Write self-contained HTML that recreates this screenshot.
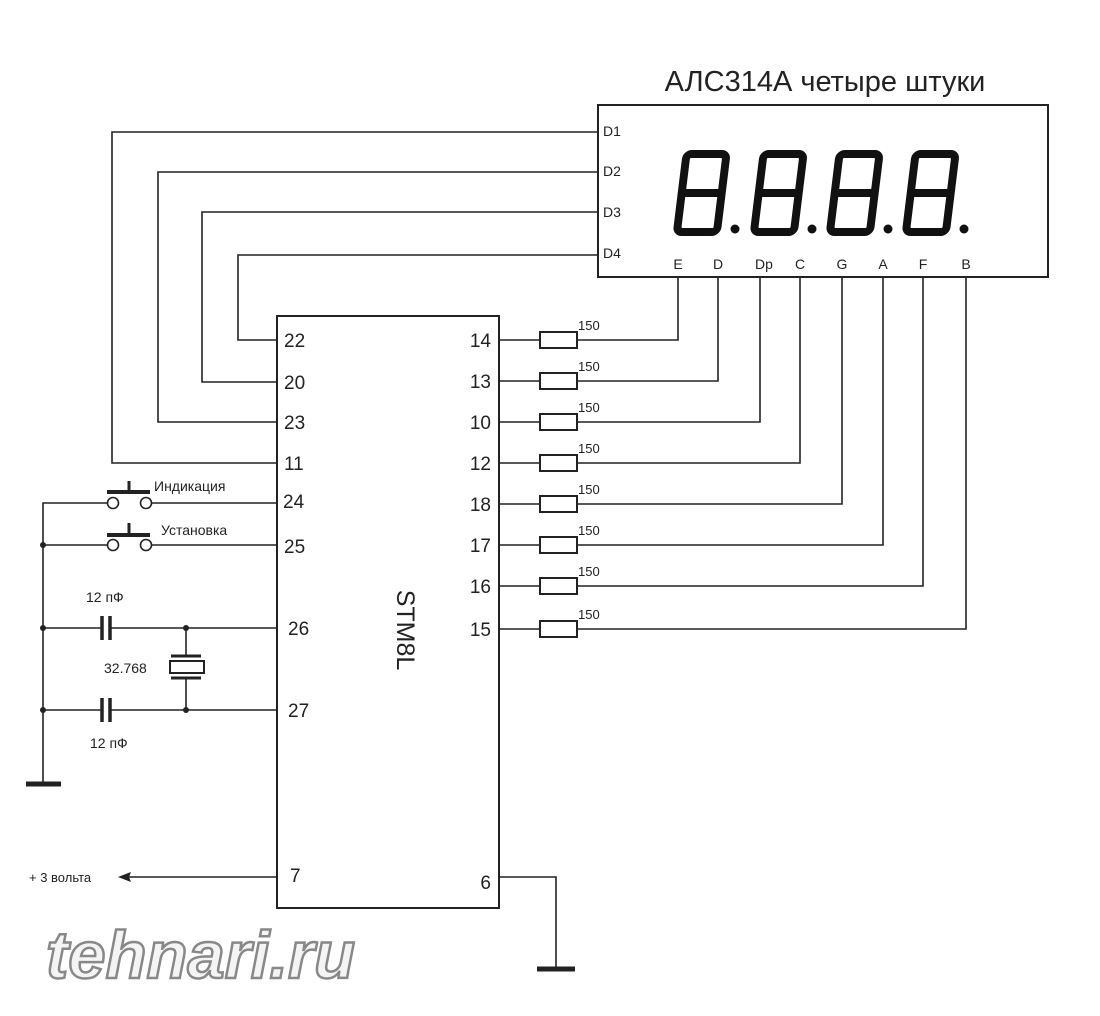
<!DOCTYPE html>
<html><head><meta charset="utf-8"><style>
html,body{margin:0;padding:0;background:#fff;}
svg{display:block;}
text{font-family:"Liberation Sans","DejaVu Sans",sans-serif;fill:#222;}
</style></head><body>
<svg width="1100" height="1016" viewBox="0 0 1100 1016" xmlns="http://www.w3.org/2000/svg">
<g fill="none" stroke="#222" stroke-width="1.6">
<rect x="598" y="105" width="450" height="172" stroke-width="2"/>
<rect x="277" y="316" width="222" height="592" stroke-width="2"/>
<polyline points="598,132 112,132 112,463 277,463"/>
<polyline points="598,172 158,172 158,422 277,422"/>
<polyline points="598,212 202,212 202,382 277,382"/>
<polyline points="598,255 238,255 238,340 277,340"/>
<polyline points="499,340 540,340"/><polyline points="577,340 678,340 678,277"/>
<polyline points="499,381 540,381"/><polyline points="577,381 718,381 718,277"/>
<polyline points="499,422 540,422"/><polyline points="577,422 760,422 760,277"/>
<polyline points="499,463 540,463"/><polyline points="577,463 800,463 800,277"/>
<polyline points="499,504 540,504"/><polyline points="577,504 842,504 842,277"/>
<polyline points="499,545 540,545"/><polyline points="577,545 883,545 883,277"/>
<polyline points="499,586 540,586"/><polyline points="577,586 923,586 923,277"/>
<polyline points="499,629 540,629"/><polyline points="577,629 966,629 966,277"/>
<g stroke-width="2">
<rect x="540" y="332" width="37" height="16"/><rect x="540" y="373" width="37" height="16"/>
<rect x="540" y="414" width="37" height="16"/><rect x="540" y="455" width="37" height="16"/>
<rect x="540" y="496" width="37" height="16"/><rect x="540" y="537" width="37" height="16"/>
<rect x="540" y="578" width="37" height="16"/><rect x="540" y="621" width="37" height="16"/>
</g>
<polyline points="108,503 43,503 43,783"/>
<line x1="151" y1="503" x2="277" y2="503"/>
<line x1="43" y1="545" x2="108" y2="545"/><line x1="151" y1="545" x2="277" y2="545"/>
<circle cx="113" cy="503" r="5.5" fill="#fff"/><circle cx="146" cy="503" r="5.5" fill="#fff"/>
<circle cx="113" cy="545" r="5.5" fill="#fff"/><circle cx="146" cy="545" r="5.5" fill="#fff"/>
<line x1="107" y1="492" x2="150" y2="492" stroke-width="4"/><line x1="129" y1="481" x2="129" y2="492" stroke-width="3"/>
<line x1="107" y1="535" x2="150" y2="535" stroke-width="4"/><line x1="129" y1="523" x2="129" y2="535" stroke-width="3"/>
<line x1="43" y1="628" x2="102" y2="628"/><line x1="110" y1="628" x2="277" y2="628"/>
<line x1="43" y1="710" x2="102" y2="710"/><line x1="110" y1="710" x2="277" y2="710"/>
<line x1="102" y1="616" x2="102" y2="640" stroke-width="3.5"/><line x1="110" y1="616" x2="110" y2="640" stroke-width="3.5"/>
<line x1="102" y1="698" x2="102" y2="722" stroke-width="3.5"/><line x1="110" y1="698" x2="110" y2="722" stroke-width="3.5"/>
<line x1="186" y1="628" x2="186" y2="656"/><line x1="186" y1="678" x2="186" y2="710"/>
<rect x="170" y="661" width="34" height="12" stroke-width="2"/>
<line x1="171" y1="656" x2="201" y2="656" stroke-width="3"/><line x1="171" y1="678" x2="201" y2="678" stroke-width="3"/>
<line x1="26" y1="784" x2="61" y2="784" stroke-width="5"/>
<line x1="128" y1="877" x2="277" y2="877"/>
<polyline points="499,877 556,877 556,968"/>
<line x1="537" y1="969" x2="575" y2="969" stroke-width="5"/>
</g>
<polygon points="118,877 131,872 129,877 131,882" fill="#222"/>
<g fill="#222">
<circle cx="43" cy="545" r="3"/><circle cx="43" cy="628" r="3"/><circle cx="43" cy="710" r="3"/>
<circle cx="186" cy="628" r="3"/><circle cx="186" cy="710" r="3"/>
</g>
<g fill="none" stroke="#111" stroke-width="8" stroke-linejoin="round">
<g transform="translate(683,150) skewX(-7)"><rect x="4" y="4" width="40" height="78" rx="5"/><line x1="4" y1="43" x2="44" y2="43"/></g>
<g transform="translate(760,150) skewX(-7)"><rect x="4" y="4" width="40" height="78" rx="5"/><line x1="4" y1="43" x2="44" y2="43"/></g>
<g transform="translate(836,150) skewX(-7)"><rect x="4" y="4" width="40" height="78" rx="5"/><line x1="4" y1="43" x2="44" y2="43"/></g>
<g transform="translate(912,150) skewX(-7)"><rect x="4" y="4" width="40" height="78" rx="5"/><line x1="4" y1="43" x2="44" y2="43"/></g>
</g>
<g fill="#111"><circle cx="735" cy="229" r="4.5"/><circle cx="812" cy="229" r="4.5"/><circle cx="888" cy="229" r="4.5"/><circle cx="964" cy="229" r="4.5"/></g>
<text x="825" y="91" font-size="29" text-anchor="middle">АЛС314А четыре штуки</text>
<g font-size="14">
<text x="603" y="136">D1</text><text x="603" y="176">D2</text><text x="603" y="217">D3</text><text x="603" y="258">D4</text>
<g text-anchor="middle"><text x="678" y="269">E</text><text x="718" y="269">D</text><text x="764" y="269">Dp</text><text x="800" y="269">C</text><text x="842" y="269">G</text><text x="883" y="269">A</text><text x="923" y="269">F</text><text x="966" y="269">B</text></g>
<text x="154" y="491">Индикация</text><text x="161" y="535">Установка</text>
<text x="86" y="602">12 пФ</text><text x="90" y="748">12 пФ</text><text x="104" y="673">32.768</text>
<text x="29" y="882" font-size="13">+ 3 вольта</text>
</g>
<g font-size="13"><text x="578" y="330">150</text><text x="578" y="371">150</text><text x="578" y="412">150</text><text x="578" y="453">150</text><text x="578" y="494">150</text><text x="578" y="535">150</text><text x="578" y="576">150</text><text x="578" y="619">150</text></g>
<g font-size="19">
<text x="284" y="347">22</text><text x="284" y="389">20</text><text x="284" y="429">23</text><text x="284" y="470">11</text><text x="283" y="508">24</text><text x="284" y="553">25</text><text x="288" y="635">26</text><text x="288" y="717">27</text><text x="290" y="882">7</text>
<g text-anchor="end"><text x="491" y="347">14</text><text x="491" y="388">13</text><text x="491" y="429">10</text><text x="491" y="470">12</text><text x="491" y="511">18</text><text x="491" y="552">17</text><text x="491" y="593">16</text><text x="491" y="636">15</text><text x="491" y="889">6</text></g>
</g>
<text transform="translate(397,630) rotate(90)" font-size="25" text-anchor="middle">STM8L</text>
<text x="46" y="978" font-size="67" font-weight="bold" font-style="italic" stroke="#888" stroke-width="2.5" style="fill:#f4f4f4">tehnari.ru</text>
</svg>
</body></html>
